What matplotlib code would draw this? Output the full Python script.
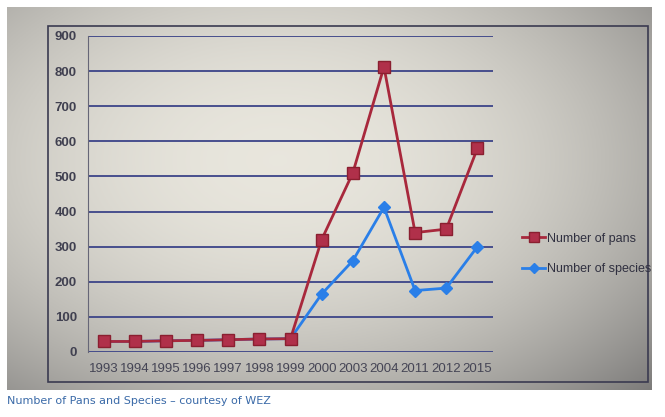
import numpy as np
import matplotlib
matplotlib.use("Agg")
import matplotlib.pyplot as plt
from matplotlib.patches import Rectangle

years = ["1993", "1994", "1995", "1996", "1997", "1998", "1999",
         "2000", "2003", "2004", "2011", "2012", "2015"]
pans = [30, 30, 32, 33, 35, 37, 38, 320, 510, 812, 340, 350, 580]
species = [30, 30, 32, 33, 35, 37, 38, 165, 260, 412, 175, 182, 300]

font = "Liberation Sans"

W, H = 665, 417
fig = plt.figure(figsize=(W / 100, H / 100), dpi=100)
fig.patch.set_facecolor("white")

# photo background with a soft vignette
bg = fig.add_axes([7 / W, 1 - 390 / H, (652 - 7) / W, (390 - 7) / H])
yy, xx = np.mgrid[0:1:200j, 0:1:300j]
d = np.sqrt(((xx - 0.42) / 0.8) ** 2 + ((yy - 0.4) / 0.85) ** 2)
shade = np.clip(0.93 - 0.42 * d ** 2, 0.5, 0.93)
rgb = np.dstack([shade * 0.98, shade * 0.97, shade * 0.9 + 0.03])
bg.imshow(rgb, aspect="auto", extent=[0, 1, 0, 1], origin="upper")
bg.add_patch(Rectangle((0.064, 0.02), 0.93, 0.93, fill=False,
                       edgecolor="#3a3a50", lw=1.2))
bg.set_xlim(0, 1)
bg.set_ylim(0, 1)
bg.axis("off")

ax = fig.add_axes([88 / W, 1 - 352 / H, (493 - 88) / W, (352 - 36) / H])
ax.patch.set_alpha(0)
x = np.arange(len(years))

ax.plot(x, species, color="#2a7fe8", lw=2, marker="D", ms=6,
        label="Number of species", zorder=3)
ax.plot(x, pans, color="#a8283c", lw=2, marker="s", ms=9,
        mfc="#b0304a", mec="#8a1f30", label="Number of pans", zorder=4)

ax.set_xlim(-0.5, len(years) - 0.5)
ax.set_ylim(0, 900)
ax.set_yticks(range(0, 901, 100))
ax.set_xticks(x)
ax.set_xticklabels(years, fontsize=9.5, color="#454555", family=font)
ax.tick_params(axis="y", labelsize=9.5, labelcolor="#404050", length=0, pad=8)
ax.tick_params(axis="x", length=0, pad=8)
for lbl in ax.get_yticklabels():
    lbl.set_fontweight("bold")
    lbl.set_family(font)
ax.yaxis.grid(True, color="#3c4488", lw=1.3)
ax.set_axisbelow(True)
for s in ["top", "right", "bottom"]:
    ax.spines[s].set_visible(False)
ax.spines["left"].set_color("#666677")

h, l = ax.get_legend_handles_labels()
ax.legend(h[::-1], l[::-1], loc="center left", bbox_to_anchor=(1.045, 0.31),
          frameon=False, prop={"family": font, "size": 9},
          handlelength=1.8, labelspacing=1.5, markerscale=0.8,
          handletextpad=0.15, labelcolor="#303040")

fig.text(7 / W, 1 - 401 / H, "Number of Pans and Species \u2013 courtesy of WEZ",
         fontsize=8, color="#3a6aa8", va="center")

fig.savefig("out.png", dpi=100)
